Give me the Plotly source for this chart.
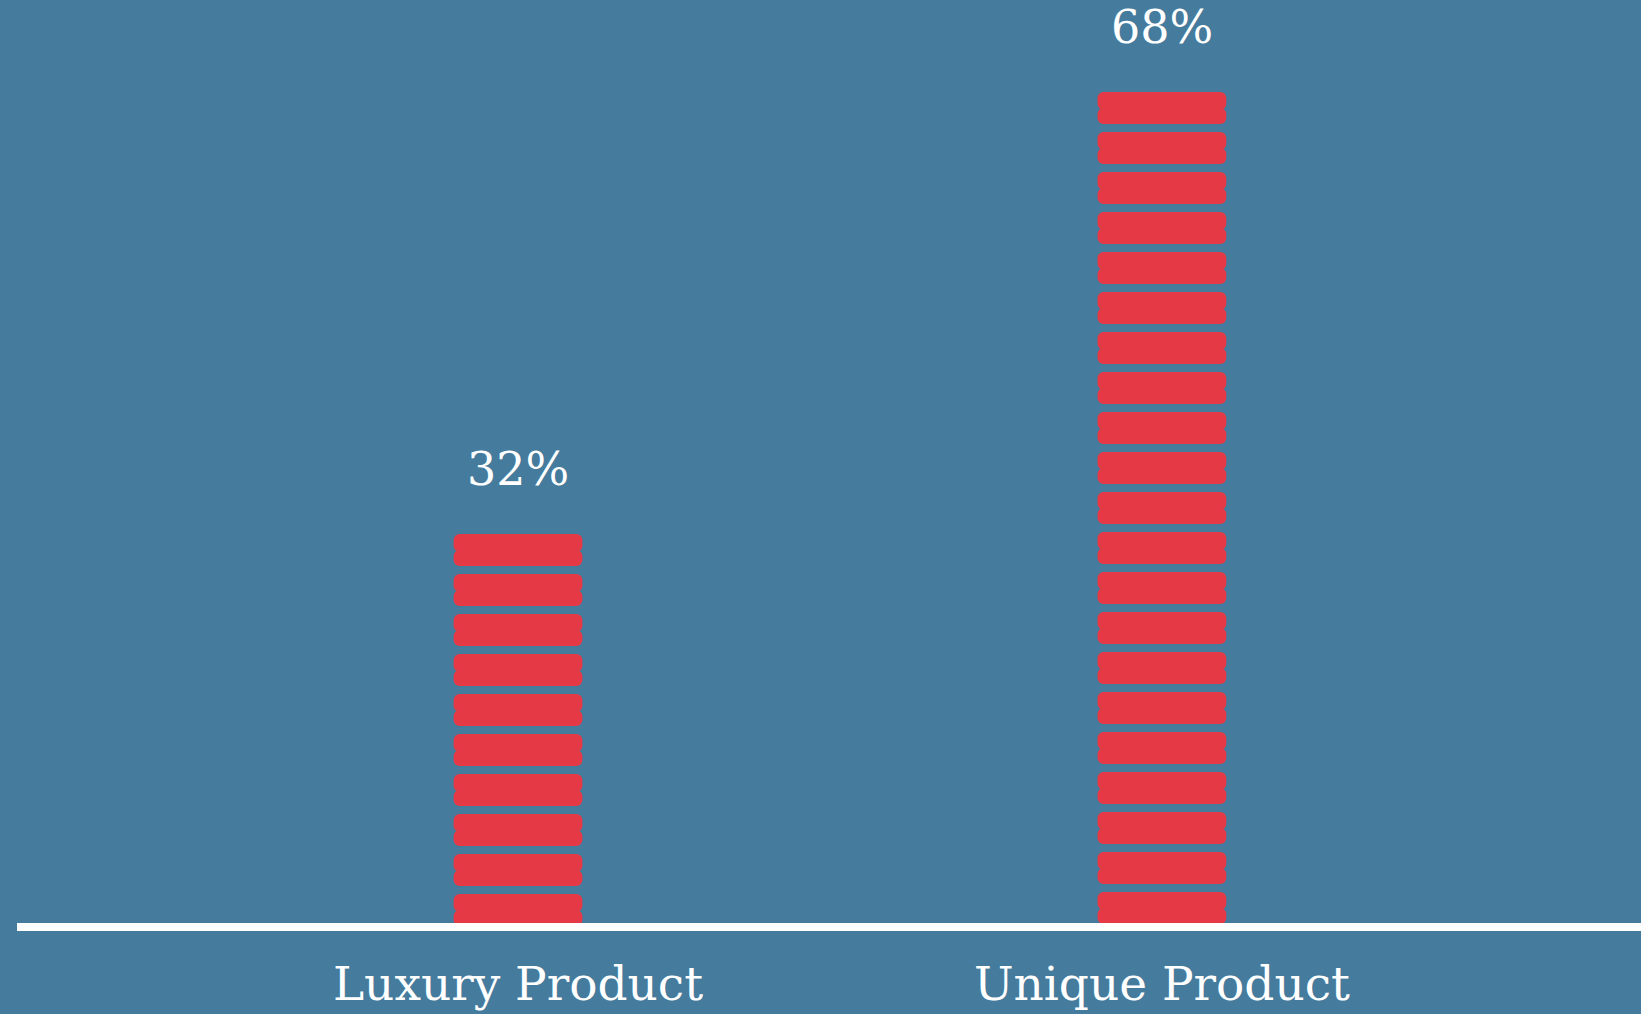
import plotly.graph_objects as go

# ---- data ----
categories = ["Luxury Product", "Unique Product"]
values = [32, 68]
value_labels = ["32%", "68%"]

# ---- style ----
BG = "#457B9D"
RED = "#E63946"
WHITE = "#FFFFFF"
FONT = "DejaVu Serif"
PX_PER_UNIT = 12.28
Y_MIN = -8 / PX_PER_UNIT
Y_MAX = 927 / PX_PER_UNIT
SEG_PERIOD = 40 / PX_PER_UNIT   # stripe period in data units
SEG_HEIGHT = 32 / PX_PER_UNIT   # stripe height in data units
BAR_WIDTH = 0.2
OVERLAP = 0.15

# build stripe segments from the values (anchored at bar top, tiling down)
up_x, up_base, up_h = [], [], []
dn_x, dn_base, dn_h = [], [], []
for cat, v in zip(categories, values):
    top = v
    while top > 0:
        bottom = max(top - SEG_HEIGHT, 0)
        mid = (top + bottom) / 2
        up_x.append(cat); up_base.append(mid - OVERLAP); up_h.append(top - mid + OVERLAP)
        dn_x.append(cat); dn_base.append(mid); dn_h.append(-(mid - bottom))
        top -= SEG_PERIOD

fig = go.Figure()
fig.add_trace(go.Bar(x=up_x, y=up_h, base=up_base, width=BAR_WIDTH,
                     marker=dict(color=RED, line=dict(width=0), cornerradius=6),
                     hoverinfo="skip", showlegend=False))
fig.add_trace(go.Bar(x=dn_x, y=dn_h, base=dn_base, width=BAR_WIDTH,
                     marker=dict(color=RED, line=dict(width=0), cornerradius=6),
                     hoverinfo="skip", showlegend=False))

for cat, v, lab in zip(categories, values, value_labels):
    fig.add_annotation(x=cat, y=v, text=lab, showarrow=False, xref="x", yref="y",
                       yanchor="bottom", yshift=36,
                       font=dict(family=FONT, size=46, color=WHITE))

# baseline
fig.add_shape(type="line", xref="paper", yref="y", x0=0, x1=1, y0=0, y1=0,
              line=dict(color=WHITE, width=8), layer="above")

fig.update_layout(
    width=1641, height=1014,
    paper_bgcolor=BG, plot_bgcolor=BG,
    margin=dict(l=17, r=0, t=0, b=79),
    barmode="overlay",
    xaxis=dict(type="category", categoryorder="array", categoryarray=categories,
               range=[-0.778, 1.744], showgrid=False, zeroline=False, showline=False,
               ticks="", tickfont=dict(family=FONT, size=47, color=WHITE),
               ticklabelstandoff=17),
    yaxis=dict(range=[Y_MIN, Y_MAX], visible=False, showgrid=False, zeroline=False),
)

fig.write_html("out.html")
